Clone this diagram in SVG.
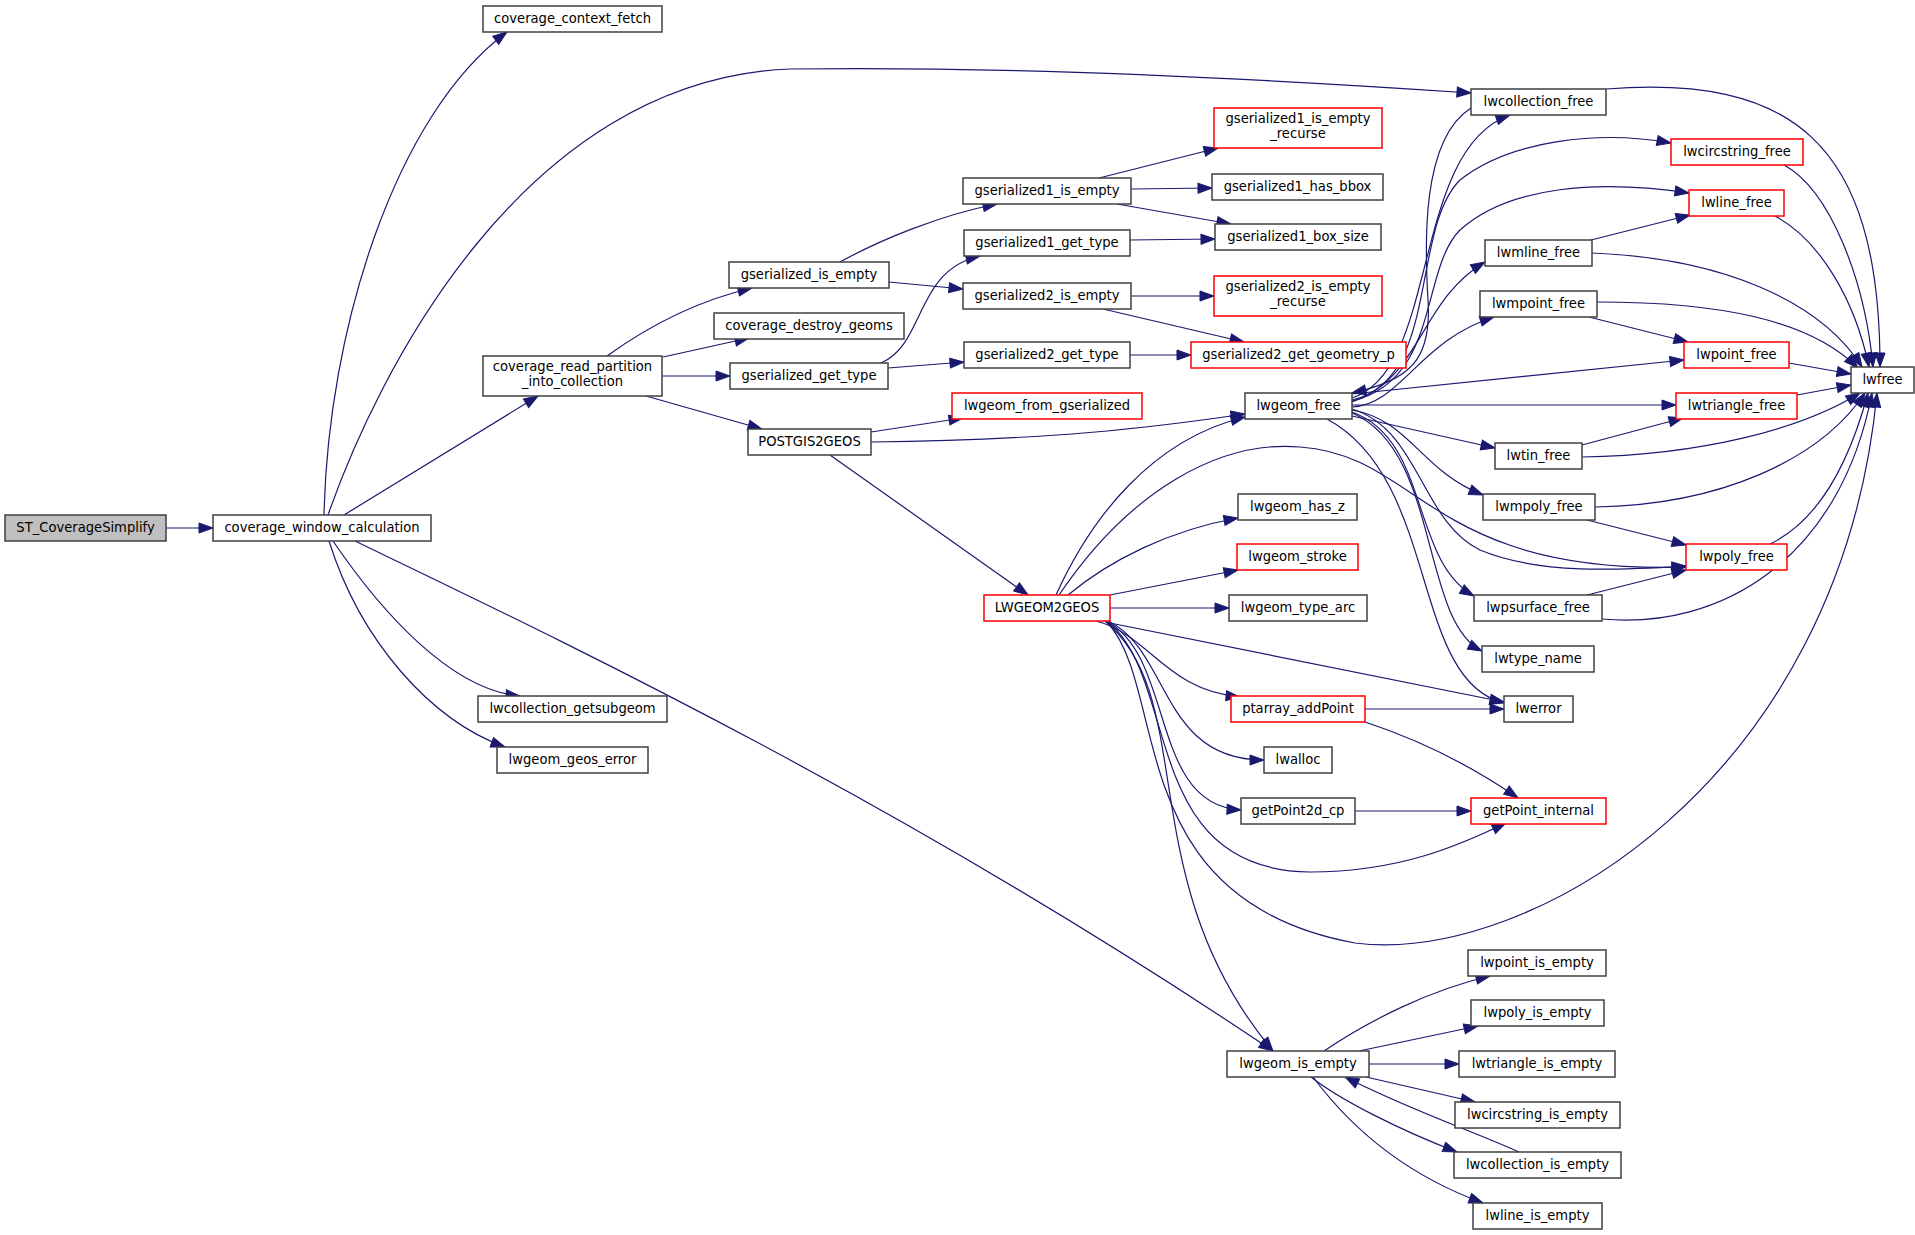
<svg xmlns="http://www.w3.org/2000/svg" width="1915" height="1235" viewBox="0 0 1915 1235">
<defs>
<marker id="a" markerWidth="15" markerHeight="11" refX="14" refY="5" orient="auto" markerUnits="userSpaceOnUse" overflow="visible"><path d="M0,0 L14,5 L0,10 z" fill="#191970" stroke="#191970" stroke-width="1"/></marker>
</defs>
<style>
.n rect{fill:#ffffff;stroke:#404040;stroke-width:1.5}
.n.r rect{stroke:#ff0000}
.n.g rect{fill:#bfbfbf}
.n text{font-family:"DejaVu Sans Condensed","DejaVu Sans",sans-serif;font-stretch:condensed;font-size:14.6px;text-anchor:middle;fill:#000000}
#edges path{fill:none;stroke:#191970;stroke-width:1.2;marker-end:url(#a)}
</style>
<rect width="1915" height="1235" fill="#ffffff"/>
<g id="edges">
<path d="M166,528 L213,528"/>
<path d="M324,515 C328,330 395,115 507,32"/>
<path d="M328,515 C375,380 520,80 790,69 C1000,66 1250,78 1471,93"/>
<path d="M344,515 L538,396"/>
<path d="M333,541 C380,610 450,690 520,696"/>
<path d="M329,541 C360,640 430,720 505,747"/>
<path d="M355,541 C560,640 900,800 1273,1051"/>
<path d="M607,356 C650,325 700,300 752,288"/>
<path d="M663,357 L749,338"/>
<path d="M662,376 L730,376"/>
<path d="M646,396 L762,429"/>
<path d="M840,262 C880,240 940,215 997,204"/>
<path d="M889,282 L963,289"/>
<path d="M881,363 C925,345 915,270 980,256"/>
<path d="M888,368 L964,362"/>
<path d="M1099,178 L1218,148"/>
<path d="M1131,189 L1212,188"/>
<path d="M1117,204 L1231,224"/>
<path d="M1130,240 L1215,239"/>
<path d="M1131,296 L1214,296"/>
<path d="M1103,309 L1244,342"/>
<path d="M1130,355 L1191,355"/>
<path d="M871,432 L963,418"/>
<path d="M871,442 C1050,440 1150,428 1245,414"/>
<path d="M830,455 L1028,595"/>
<path d="M1056,595 C1090,520 1150,440 1245,417"/>
<path d="M1059,595 C1130,490 1220,440 1300,447 C1420,455 1430,575 1686,567"/>
<path d="M1068,595 C1110,560 1170,530 1238,518"/>
<path d="M1110,595 L1238,570"/>
<path d="M1110,608 L1229,608"/>
<path d="M1110,623 L1504,702"/>
<path d="M1096,621 C1150,635 1165,690 1240,697"/>
<path d="M1108,621 C1170,650 1160,760 1264,760"/>
<path d="M1108,622 C1175,660 1150,805 1241,810"/>
<path d="M1108,622 C1180,680 1140,870 1310,872 C1400,872 1460,845 1506,823"/>
<path d="M1107,622 C1170,690 1120,900 1355,943 C1530,965 1840,780 1877,393"/>
<path d="M1105,621 C1200,700 1130,880 1273,1051"/>
<path d="M1365,709 L1504,709"/>
<path d="M1365,722 C1420,740 1470,765 1518,798"/>
<path d="M1355,811 L1471,811"/>
<path d="M1327,419 C1440,480 1410,680 1504,703"/>
<path d="M1352,413 C1440,450 1420,620 1482,651"/>
<path d="M1352,412 C1430,440 1410,560 1474,596"/>
<path d="M1352,410 C1410,420 1420,470 1483,495"/>
<path d="M1352,416 L1495,448"/>
<path d="M1352,405 L1676,405"/>
<path d="M1352,394 L1684,360"/>
<path d="M1352,409 C1420,430 1420,520 1480,550 C1540,575 1620,570 1686,566"/>
<path d="M1352,398 C1440,370 1410,150 1510,115"/>
<path d="M1471,108 C1420,140 1425,250 1428,300 C1432,360 1410,380 1352,393"/>
<path d="M1352,400 C1440,380 1410,230 1460,180 C1510,140 1600,130 1671,143"/>
<path d="M1352,401 C1440,380 1420,270 1460,230 C1510,185 1600,180 1689,193"/>
<path d="M1352,402 C1420,380 1420,300 1485,262"/>
<path d="M1352,407 C1400,405 1420,340 1494,317"/>
<path d="M1606,89 C1790,75 1880,140 1880,367"/>
<path d="M1784,165 C1830,190 1865,280 1873,367"/>
<path d="M1775,216 C1820,240 1855,300 1869,367"/>
<path d="M1592,253 C1720,258 1820,300 1862,367"/>
<path d="M1597,302 C1720,302 1810,320 1858,368"/>
<path d="M1789,363 L1851,374"/>
<path d="M1797,395 L1851,385"/>
<path d="M1582,457 C1700,455 1800,430 1860,393"/>
<path d="M1595,507 C1720,505 1820,460 1865,393"/>
<path d="M1770,544 C1820,520 1850,460 1868,393"/>
<path d="M1602,619 C1720,630 1840,560 1872,393"/>
<path d="M1591,240 L1690,215"/>
<path d="M1589,317 L1688,342"/>
<path d="M1582,445 L1683,418"/>
<path d="M1587,520 L1686,545"/>
<path d="M1587,595 L1686,570"/>
<path d="M1324,1051 C1370,1020 1430,990 1490,976"/>
<path d="M1359,1051 L1478,1026"/>
<path d="M1369,1064 L1459,1064"/>
<path d="M1366,1077 L1475,1102"/>
<path d="M1311,1077 C1340,1100 1400,1130 1457,1152"/>
<path d="M1313,1077 C1360,1140 1420,1180 1483,1203"/>
<path d="M1519,1152 C1470,1130 1410,1110 1345,1077"/>
</g>
<g id="n_st" class="n g"><rect x="5" y="515" width="161" height="26"/><text x="85.5" y="531.5">ST_CoverageSimplify</text></g>
<g id="n_cwc" class="n"><rect x="213" y="515" width="218" height="26"/><text x="322" y="531.5">coverage_window_calculation</text></g>
<g id="n_ccf" class="n"><rect x="483" y="6" width="179" height="26"/><text x="572.5" y="22.5">coverage_context_fetch</text></g>
<g id="n_crp" class="n"><rect x="483" y="356" width="179" height="40"/><text x="572.5" y="370.5">coverage_read_partition</text><text x="572.5" y="385.5">_into_collection</text></g>
<g id="n_lgs" class="n"><rect x="478" y="696" width="189" height="26"/><text x="572.5" y="712.5">lwcollection_getsubgeom</text></g>
<g id="n_lge" class="n"><rect x="497" y="747" width="151" height="26"/><text x="572.5" y="763.5">lwgeom_geos_error</text></g>
<g id="n_gie" class="n"><rect x="729" y="262" width="160" height="26"/><text x="809" y="278.5">gserialized_is_empty</text></g>
<g id="n_cdg" class="n"><rect x="714" y="313" width="190" height="26"/><text x="809" y="329.5">coverage_destroy_geoms</text></g>
<g id="n_ggt" class="n"><rect x="730" y="363" width="158" height="26"/><text x="809" y="379.5">gserialized_get_type</text></g>
<g id="n_pg" class="n"><rect x="748" y="429" width="123" height="26"/><text x="809.5" y="445.5">POSTGIS2GEOS</text></g>
<g id="n_g1ie" class="n"><rect x="963" y="178" width="168" height="26"/><text x="1047" y="194.5">gserialized1_is_empty</text></g>
<g id="n_g1gt" class="n"><rect x="964" y="230" width="166" height="26"/><text x="1047" y="246.5">gserialized1_get_type</text></g>
<g id="n_g2ie" class="n"><rect x="963" y="283" width="168" height="26"/><text x="1047" y="299.5">gserialized2_is_empty</text></g>
<g id="n_g2gt" class="n"><rect x="964" y="342" width="166" height="26"/><text x="1047" y="358.5">gserialized2_get_type</text></g>
<g id="n_lfg" class="n r"><rect x="952" y="393" width="190" height="26"/><text x="1047" y="409.5">lwgeom_from_gserialized</text></g>
<g id="n_lw2g" class="n r"><rect x="984" y="595" width="126" height="26"/><text x="1047" y="611.5">LWGEOM2GEOS</text></g>
<g id="n_g1ier" class="n r"><rect x="1214" y="108" width="168" height="40"/><text x="1298" y="122.5">gserialized1_is_empty</text><text x="1298" y="137.5">_recurse</text></g>
<g id="n_g1hb" class="n"><rect x="1212" y="174" width="171" height="26"/><text x="1297.5" y="190.5">gserialized1_has_bbox</text></g>
<g id="n_g1bs" class="n"><rect x="1215" y="224" width="166" height="26"/><text x="1298" y="240.5">gserialized1_box_size</text></g>
<g id="n_g2ier" class="n r"><rect x="1214" y="276" width="168" height="40"/><text x="1298" y="290.5">gserialized2_is_empty</text><text x="1298" y="305.5">_recurse</text></g>
<g id="n_g2ggp" class="n r"><rect x="1191" y="342" width="215" height="26"/><text x="1298.5" y="358.5">gserialized2_get_geometry_p</text></g>
<g id="n_lgf" class="n"><rect x="1245" y="393" width="107" height="26"/><text x="1298.5" y="409.5">lwgeom_free</text></g>
<g id="n_lhz" class="n"><rect x="1238" y="494" width="119" height="26"/><text x="1297.5" y="510.5">lwgeom_has_z</text></g>
<g id="n_lst" class="n r"><rect x="1237" y="544" width="121" height="26"/><text x="1297.5" y="560.5">lwgeom_stroke</text></g>
<g id="n_lta" class="n"><rect x="1229" y="595" width="138" height="26"/><text x="1298" y="611.5">lwgeom_type_arc</text></g>
<g id="n_pap" class="n r"><rect x="1231" y="696" width="134" height="26"/><text x="1298" y="712.5">ptarray_addPoint</text></g>
<g id="n_lal" class="n"><rect x="1264" y="747" width="68" height="26"/><text x="1298" y="763.5">lwalloc</text></g>
<g id="n_gp2" class="n"><rect x="1241" y="798" width="114" height="26"/><text x="1298" y="814.5">getPoint2d_cp</text></g>
<g id="n_lie" class="n"><rect x="1227" y="1051" width="142" height="26"/><text x="1298" y="1067.5">lwgeom_is_empty</text></g>
<g id="n_lcf" class="n"><rect x="1471" y="89" width="135" height="26"/><text x="1538.5" y="105.5">lwcollection_free</text></g>
<g id="n_lmlf" class="n"><rect x="1485" y="240" width="107" height="26"/><text x="1538.5" y="256.5">lwmline_free</text></g>
<g id="n_lmpf" class="n"><rect x="1480" y="291" width="117" height="26"/><text x="1538.5" y="307.5">lwmpoint_free</text></g>
<g id="n_ltin" class="n"><rect x="1495" y="443" width="87" height="26"/><text x="1538.5" y="459.5">lwtin_free</text></g>
<g id="n_lmpoly" class="n"><rect x="1483" y="494" width="112" height="26"/><text x="1539" y="510.5">lwmpoly_free</text></g>
<g id="n_lps" class="n"><rect x="1474" y="595" width="128" height="26"/><text x="1538" y="611.5">lwpsurface_free</text></g>
<g id="n_ltn" class="n"><rect x="1482" y="646" width="112" height="26"/><text x="1538" y="662.5">lwtype_name</text></g>
<g id="n_lerr" class="n"><rect x="1504" y="696" width="69" height="26"/><text x="1538.5" y="712.5">lwerror</text></g>
<g id="n_gpi" class="n r"><rect x="1471" y="798" width="135" height="26"/><text x="1538.5" y="814.5">getPoint_internal</text></g>
<g id="n_lpie" class="n"><rect x="1468" y="950" width="138" height="26"/><text x="1537" y="966.5">lwpoint_is_empty</text></g>
<g id="n_lpolyie" class="n"><rect x="1471" y="1000" width="133" height="26"/><text x="1537.5" y="1016.5">lwpoly_is_empty</text></g>
<g id="n_ltrie" class="n"><rect x="1459" y="1051" width="156" height="26"/><text x="1537" y="1067.5">lwtriangle_is_empty</text></g>
<g id="n_lcsie" class="n"><rect x="1455" y="1102" width="165" height="26"/><text x="1537.5" y="1118.5">lwcircstring_is_empty</text></g>
<g id="n_lcolie" class="n"><rect x="1454" y="1152" width="167" height="26"/><text x="1537.5" y="1168.5">lwcollection_is_empty</text></g>
<g id="n_llie" class="n"><rect x="1473" y="1203" width="129" height="26"/><text x="1537.5" y="1219.5">lwline_is_empty</text></g>
<g id="n_lcsf" class="n r"><rect x="1671" y="139" width="132" height="26"/><text x="1737" y="155.5">lwcircstring_free</text></g>
<g id="n_llf" class="n r"><rect x="1689" y="190" width="95" height="26"/><text x="1736.5" y="206.5">lwline_free</text></g>
<g id="n_lpf" class="n r"><rect x="1684" y="342" width="105" height="26"/><text x="1736.5" y="358.5">lwpoint_free</text></g>
<g id="n_ltf" class="n r"><rect x="1676" y="393" width="121" height="26"/><text x="1736.5" y="409.5">lwtriangle_free</text></g>
<g id="n_lpolyf" class="n r"><rect x="1686" y="544" width="101" height="26"/><text x="1736.5" y="560.5">lwpoly_free</text></g>
<g id="n_lwfree" class="n"><rect x="1851" y="367" width="63" height="26"/><text x="1882.5" y="383.5">lwfree</text></g>
</svg>
